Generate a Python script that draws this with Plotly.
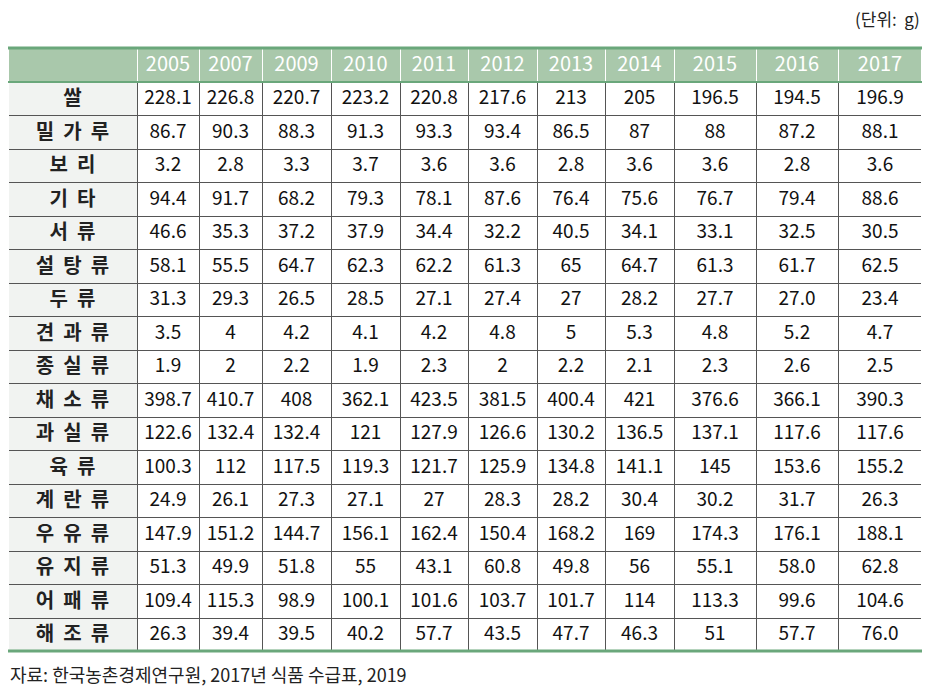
import plotly.graph_objects as go

years = ["2005", "2007", "2009", "2010", "2011", "2012", "2013", "2014", "2015", "2016", "2017"]
foods = ["쌀", "밀 가 루", "보 리", "기 타", "서 류", "설 탕 류", "두 류", "견 과 류", "종 실 류",
         "채 소 류", "과 실 류", "육 류", "계 란 류", "우 유 류", "유 지 류", "어 패 류", "해 조 류"]

# values as printed in the source (kept as text so "27.0" etc. stay as shown)
rice = ["228.1", "226.8", "220.7", "223.2", "220.8", "217.6", "213", "205", "196.5", "194.5", "196.9"]
flour = ["86.7", "90.3", "88.3", "91.3", "93.3", "93.4", "86.5", "87", "88", "87.2", "88.1"]
barley = ["3.2", "2.8", "3.3", "3.7", "3.6", "3.6", "2.8", "3.6", "3.6", "2.8", "3.6"]
other = ["94.4", "91.7", "68.2", "79.3", "78.1", "87.6", "76.4", "75.6", "76.7", "79.4", "88.6"]
tubers = ["46.6", "35.3", "37.2", "37.9", "34.4", "32.2", "40.5", "34.1", "33.1", "32.5", "30.5"]
sugar = ["58.1", "55.5", "64.7", "62.3", "62.2", "61.3", "65", "64.7", "61.3", "61.7", "62.5"]
pulses = ["31.3", "29.3", "26.5", "28.5", "27.1", "27.4", "27", "28.2", "27.7", "27.0", "23.4"]
nuts = ["3.5", "4", "4.2", "4.1", "4.2", "4.8", "5", "5.3", "4.8", "5.2", "4.7"]
seeds = ["1.9", "2", "2.2", "1.9", "2.3", "2", "2.2", "2.1", "2.3", "2.6", "2.5"]
vegetables = ["398.7", "410.7", "408", "362.1", "423.5", "381.5", "400.4", "421", "376.6", "366.1", "390.3"]
fruits = ["122.6", "132.4", "132.4", "121", "127.9", "126.6", "130.2", "136.5", "137.1", "117.6", "117.6"]
meat = ["100.3", "112", "117.5", "119.3", "121.7", "125.9", "134.8", "141.1", "145", "153.6", "155.2"]
eggs = ["24.9", "26.1", "27.3", "27.1", "27", "28.3", "28.2", "30.4", "30.2", "31.7", "26.3"]
milk = ["147.9", "151.2", "144.7", "156.1", "162.4", "150.4", "168.2", "169", "174.3", "176.1", "188.1"]
oils = ["51.3", "49.9", "51.8", "55", "43.1", "60.8", "49.8", "56", "55.1", "58.0", "62.8"]
fish = ["109.4", "115.3", "98.9", "100.1", "101.6", "103.7", "101.7", "114", "113.3", "99.6", "104.6"]
seaweed = ["26.3", "39.4", "39.5", "40.2", "57.7", "43.5", "47.7", "46.3", "51", "57.7", "76.0"]

rows = [rice, flour, barley, other, tubers, sugar, pulses, nuts, seeds,
        vegetables, fruits, meat, eggs, milk, oils, fish, seaweed]

GREEN_DARK = "#6aa77b"
GREEN_HEAD = "#a9c8ab"
LABEL_BG = "#f1f3f1"
GRID = "#555555"
FONT = "Noto Sans CJK KR"
NB = "\u00a0\u00a0"  # wide letter spacing in the row labels (no breaking spaces)

columns = [[NB.join(f.split(" ")) for f in foods]]
for i in range(len(years)):
    columns.append([r[i] for r in rows])

fig = go.Figure(go.Table(
    columnwidth=[129, 62, 63, 69, 69, 68, 69, 68, 69, 82, 82, 84],
    header=dict(
        values=[""] + years,
        fill_color=GREEN_HEAD,
        line=dict(color="white", width=1),
        font=dict(family=FONT, size=20, color="white"),
        align="center",
        height=34,
    ),
    cells=dict(
        values=columns,
        fill_color=[[LABEL_BG] * len(foods)] + [["white"] * len(foods)] * len(years),
        line=dict(color=GRID, width=1),
        font=dict(family=FONT, size=[20] + [19] * len(years),
                  color=["#222222"] + ["#111111"] * len(years),
                  weight=["bold"] + ["normal"] * len(years)),
        align="center",
        height=33.5,
    ),
))

# hide the outer left/right borders, then the green rules
for x in (0, 1):
    fig.add_shape(type="line", xref="paper", yref="paper", x0=x, x1=x, y0=0, y1=1,
                  line=dict(color="white", width=2), layer="above")
head_frac = 1 - 34 / 603.5
fig.add_shape(type="line", xref="paper", yref="paper", x0=0, x1=1, y0=1, y1=1,
              line=dict(color=GREEN_DARK, width=3), layer="above")
fig.add_shape(type="line", xref="paper", yref="paper", x0=0, x1=1, y0=head_frac, y1=head_frac,
              line=dict(color=GREEN_DARK, width=2), layer="above")
fig.add_shape(type="line", xref="paper", yref="paper", x0=0, x1=1, y0=0, y1=0,
              line=dict(color=GREEN_DARK, width=3), layer="above")

fig.add_annotation(text="(단위:\u00a0 g)", xref="paper", yref="paper", x=1, y=1, yshift=30,
                   xanchor="right", yanchor="middle", showarrow=False,
                   font=dict(family=FONT, size=17, color="#222222"))
fig.add_annotation(text="자료: 한국농촌경제연구원, 2017년 식품 수급표, 2019", xref="paper", yref="paper",
                   x=0, y=0, yshift=-23, xanchor="left", yanchor="middle", showarrow=False,
                   font=dict(family=FONT, size=18, color="#222222"))

# page body adds an 8px offset, so the figure is a bit smaller than the window
fig.update_layout(
    width=936, height=681,
    margin=dict(l=0, r=22, t=40, b=37.5),
    paper_bgcolor="white",
    plot_bgcolor="white",
)

fig.write_html("out.html")
